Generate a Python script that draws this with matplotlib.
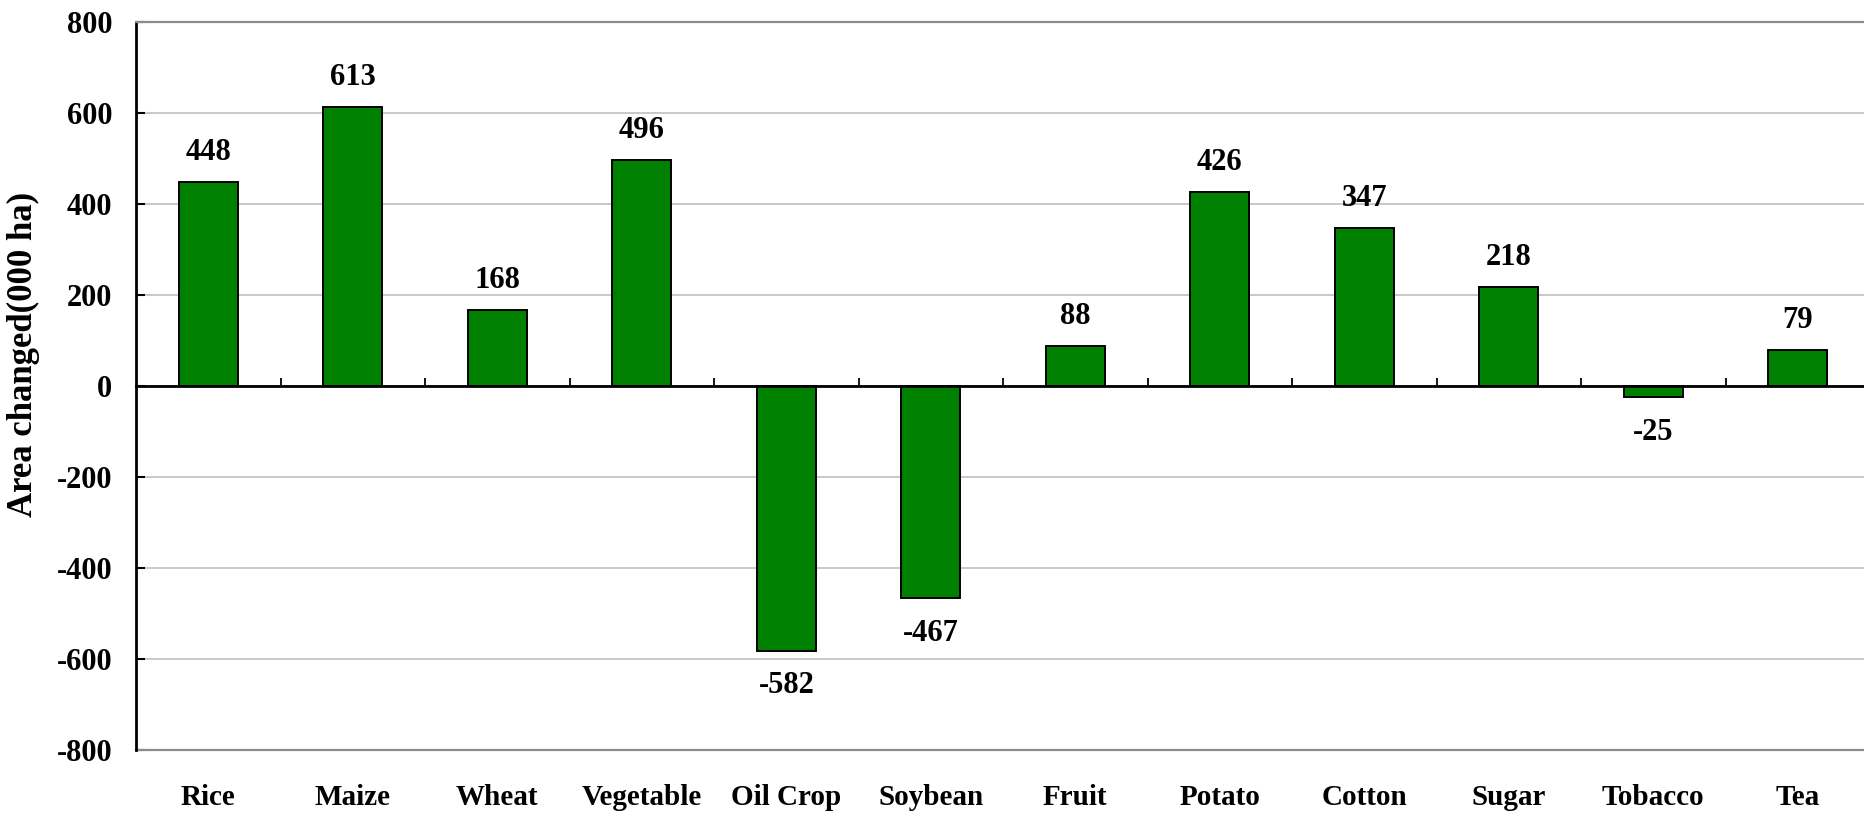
import matplotlib
matplotlib.use("Agg")
import matplotlib.pyplot as plt
import matplotlib.transforms as mtransforms
import numpy as np

crops = ["Rice", "Maize", "Wheat", "Vegetable", "Oil Crop", "Soybean",
         "Fruit", "Potato", "Cotton", "Sugar", "Tobacco", "Tea"]
area_change = [448, 613, 168, 496, -582, -467, 88, 426, 347, 218, -25, 79]
y_ticks = [-800, -600, -400, -200, 0, 200, 400, 600, 800]

plt.rcParams["font.family"] = ["Liberation Serif", "DejaVu Serif"]
plt.rcParams["font.weight"] = "bold"

W, H = 1864, 813
fig = plt.figure(figsize=(W / 100, H / 100), dpi=100)
left, right, top, bottom = 136, 1870, 22, 750
ax = fig.add_axes([left / W, (H - bottom) / H, (right - left) / W, (bottom - top) / H])

x = np.arange(len(crops))
ax.bar(x, area_change, width=0.41, color="#008000",
       edgecolor="black", linewidth=1.4, zorder=3)

ax.set_xlim(-0.5, len(crops) - 0.5)
ax.set_ylim(y_ticks[0], y_ticks[-1])
ax.set_yticks(y_ticks)
ax.set_yticklabels([str(v) for v in y_ticks])

# horizontal gridlines
ax.yaxis.grid(True, color="#c4c4c4", linewidth=1.3, zorder=0)
ax.set_axisbelow(True)

# spines: the zero line carries the category boundary ticks
ax.spines["bottom"].set_position(("data", 0))
ax.spines["bottom"].set_linewidth(2.0)
ax.spines["bottom"].set_zorder(4)
ax.spines["left"].set_linewidth(2.0)
ax.spines["left"].set_color("black")
ax.spines["top"].set_color("#8c8c8c")
ax.spines["top"].set_linewidth(1.6)
ax.spines["right"].set_visible(False)
ax.axhline(y_ticks[0], color="#8c8c8c", linewidth=1.6, zorder=1, clip_on=False)

ax.set_xticks(x[:-1] + 0.5)
ax.set_xticklabels([])
ax.tick_params(axis="x", direction="in", length=6, width=1.3, color="black")
ax.tick_params(axis="y", direction="in", length=6.5, width=1.5,
               labelsize=22, pad=17)
for lab in ax.get_yticklabels():
    lab.set_fontweight("bold")

# category names below the plot area
trans = mtransforms.blended_transform_factory(ax.transData, ax.transAxes)
for xi, name in zip(x, crops):
    ax.text(xi, -0.0646, name, transform=trans, ha="center", va="center",
            fontsize=21, fontweight="bold")

# value labels
for xi, v in zip(x, area_change):
    off = 15.8 if v >= 0 else -30.5
    ax.annotate(str(v), xy=(xi, v), xytext=(0, off), textcoords="offset points",
                ha="center", va="baseline", fontsize=22, fontweight="bold")

ax.set_ylabel("Area changed(000 ha)", fontsize=25, fontweight="bold")
ax.yaxis.set_label_coords(-0.0554, 0.543)

fig.savefig("out.png", dpi=100)
